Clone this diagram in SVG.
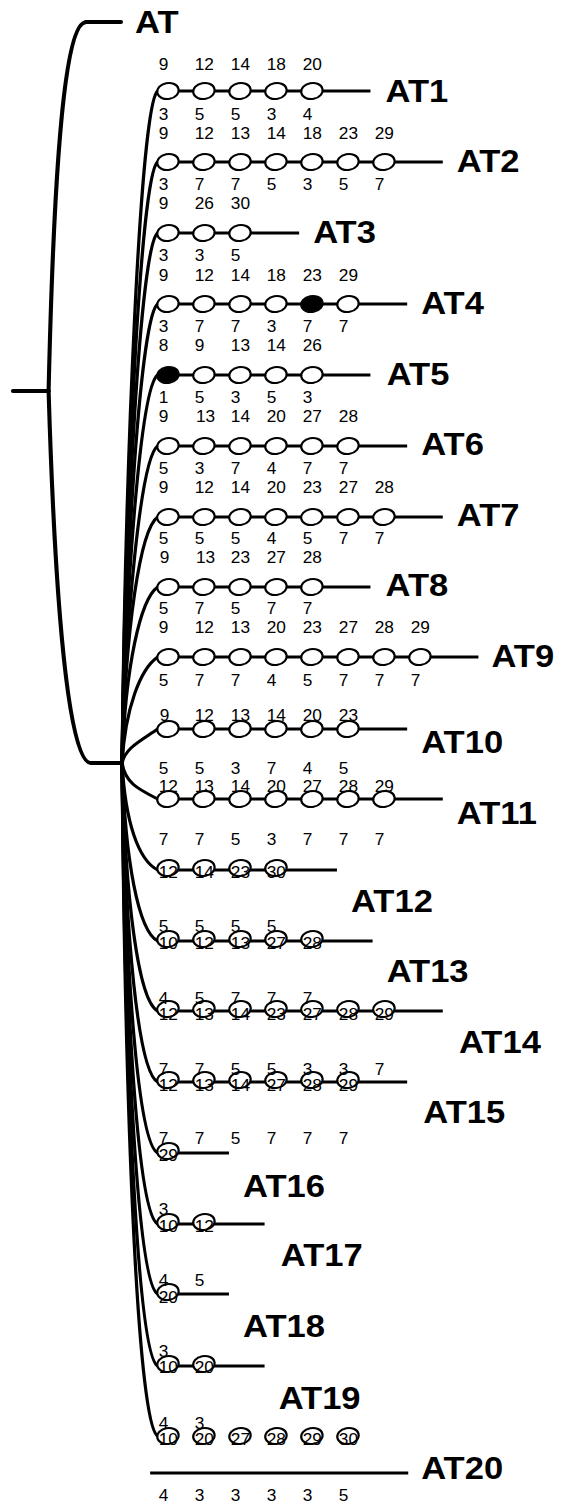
<svg xmlns="http://www.w3.org/2000/svg" xmlns:xlink="http://www.w3.org/1999/xlink" width="564" height="1506" viewBox="0 0 564 1506">
<style>
.br{fill:none;stroke:#000;stroke-width:3.8;stroke-linecap:round}
.fan{fill:none;stroke:#000;stroke-width:3}
.ln{stroke:#000;stroke-width:3.2}
.nd{fill:#fff;stroke:#000;stroke-width:2}
.fl{fill:#000;stroke:#000;stroke-width:2}
.lb{font-family:"Liberation Sans",Arial,sans-serif;font-size:16px;fill:#000}
.t{font-family:"Liberation Sans",Arial,sans-serif;font-size:32px;font-weight:bold;fill:#000}
</style>
<defs>
<ellipse id="o" cx="0" cy="0" rx="10" ry="8" transform="rotate(-12)"/>
</defs>
<rect width="564" height="1506" fill="#fff"/>
<g transform="scale(1.08,1)">
<g id="connectors">
<path class="br" d="M12,391 L45,391"/>
<path class="br" d="M45,391 C50,160 60,22 80,22"/>
<path class="br" d="M45,391 C52,640 66,763 84,763 L113,763"/>
<path class="fan" d="M113,763 C116,460 130,103 146,91"/>
<path class="fan" d="M113,763 C116,497 130,174 146,162"/>
<path class="fan" d="M113,763 C116,529 130,245 146,233"/>
<path class="fan" d="M113,763 C116,561 130,316 146,304"/>
<path class="fan" d="M113,763 C116,592 130,387 146,375"/>
<path class="fan" d="M113,763 C116,624 130,458 146,446"/>
<path class="fan" d="M113,763 C116,627 130,529 146,517"/>
<path class="fan" d="M113,763 C116,666 130,599 146,587"/>
<path class="fan" d="M113,763 C116,708 130,669 146,657"/>
<path class="fan" d="M113,763 C116,748 130,741 146,729"/>
<path class="fan" d="M113,763 C116,783 128,789 146,799"/>
<path class="fan" d="M113,763 C116,822 128,860 146,870"/>
<path class="fan" d="M113,763 C116,861 128,931 146,941"/>
<path class="fan" d="M113,763 C116,899 128,1001 146,1011"/>
<path class="fan" d="M113,763 C116,938 128,1072 146,1082"/>
<path class="fan" d="M113,763 C116,977 128,1143 146,1153"/>
<path class="fan" d="M113,763 C116,1016 128,1214 146,1224"/>
<path class="fan" d="M113,763 C116,1054 128,1284 146,1294"/>
<path class="fan" d="M113,763 C116,1094 128,1356 146,1366"/>
<path class="fan" d="M113,763 C116,1133 128,1426 146,1436"/>
</g>
<g id="AT">
<path class="br" d="M80,22 L112,22"/>
<text class="t" x="125" y="33">AT</text>
</g>
<g id="AT1">
<line class="ln" x1="146" y1="91" x2="343" y2="91"/>
<use xlink:href="#o" class="nd" x="155.5" y="91"/><use xlink:href="#o" class="nd" x="188.8" y="91"/><use xlink:href="#o" class="nd" x="222.2" y="91"/><use xlink:href="#o" class="nd" x="255.5" y="91"/><use xlink:href="#o" class="nd" x="288.8" y="91"/>
<text class="lb" y="70"><tspan x="147">9</tspan><tspan x="180.3">12</tspan><tspan x="213.7">14</tspan><tspan x="247">18</tspan><tspan x="280.3">20</tspan></text>
<text class="lb" y="120"><tspan x="147">3</tspan><tspan x="180.3">5</tspan><tspan x="213.7">5</tspan><tspan x="247">3</tspan><tspan x="280.3">4</tspan></text>
<text class="t" x="357" y="102">AT1</text>
</g>
<g id="AT2">
<line class="ln" x1="146" y1="162" x2="410" y2="162"/>
<use xlink:href="#o" class="nd" x="155.5" y="162"/><use xlink:href="#o" class="nd" x="188.8" y="162"/><use xlink:href="#o" class="nd" x="222.2" y="162"/><use xlink:href="#o" class="nd" x="255.5" y="162"/><use xlink:href="#o" class="nd" x="288.8" y="162"/><use xlink:href="#o" class="nd" x="322.2" y="162"/><use xlink:href="#o" class="nd" x="355.5" y="162"/>
<text class="lb" y="139"><tspan x="147">9</tspan><tspan x="180.3">12</tspan><tspan x="213.7">13</tspan><tspan x="247">14</tspan><tspan x="280.3">18</tspan><tspan x="313.7">23</tspan><tspan x="347">29</tspan></text>
<text class="lb" y="190"><tspan x="147">3</tspan><tspan x="180.3">7</tspan><tspan x="213.7">7</tspan><tspan x="247">5</tspan><tspan x="280.3">3</tspan><tspan x="313.7">5</tspan><tspan x="347">7</tspan></text>
<text class="t" x="423" y="172">AT2</text>
</g>
<g id="AT3">
<line class="ln" x1="146" y1="233" x2="277" y2="233"/>
<use xlink:href="#o" class="nd" x="155.5" y="233"/><use xlink:href="#o" class="nd" x="188.8" y="233"/><use xlink:href="#o" class="nd" x="222.2" y="233"/>
<text class="lb" y="209"><tspan x="147">9</tspan><tspan x="180.3">26</tspan><tspan x="213.7">30</tspan></text>
<text class="lb" y="261"><tspan x="147">3</tspan><tspan x="180.3">3</tspan><tspan x="213.7">5</tspan></text>
<text class="t" x="290" y="243">AT3</text>
</g>
<g id="AT4">
<line class="ln" x1="146" y1="304" x2="377" y2="304"/>
<use xlink:href="#o" class="nd" x="155.5" y="304"/><use xlink:href="#o" class="nd" x="188.8" y="304"/><use xlink:href="#o" class="nd" x="222.2" y="304"/><use xlink:href="#o" class="nd" x="255.5" y="304"/><use xlink:href="#o" class="fl" x="288.8" y="304"/><use xlink:href="#o" class="nd" x="322.2" y="304"/>
<text class="lb" y="281"><tspan x="147">9</tspan><tspan x="180.3">12</tspan><tspan x="213.7">14</tspan><tspan x="247">18</tspan><tspan x="280.3">23</tspan><tspan x="313.7">29</tspan></text>
<text class="lb" y="332"><tspan x="147">3</tspan><tspan x="180.3">7</tspan><tspan x="213.7">7</tspan><tspan x="247">3</tspan><tspan x="280.3">7</tspan><tspan x="313.7">7</tspan></text>
<text class="t" x="390" y="314">AT4</text>
</g>
<g id="AT5">
<line class="ln" x1="146" y1="375" x2="343" y2="375"/>
<use xlink:href="#o" class="fl" x="155.5" y="375"/><use xlink:href="#o" class="nd" x="188.8" y="375"/><use xlink:href="#o" class="nd" x="222.2" y="375"/><use xlink:href="#o" class="nd" x="255.5" y="375"/><use xlink:href="#o" class="nd" x="288.8" y="375"/>
<text class="lb" y="351"><tspan x="147">8</tspan><tspan x="180.3">9</tspan><tspan x="213.7">13</tspan><tspan x="247">14</tspan><tspan x="280.3">26</tspan></text>
<text class="lb" y="403"><tspan x="147">1</tspan><tspan x="180.3">5</tspan><tspan x="213.7">3</tspan><tspan x="247">5</tspan><tspan x="280.3">3</tspan></text>
<text class="t" x="358" y="385">AT5</text>
</g>
<g id="AT6">
<line class="ln" x1="146" y1="446" x2="377" y2="446"/>
<use xlink:href="#o" class="nd" x="155.5" y="446"/><use xlink:href="#o" class="nd" x="188.8" y="446"/><use xlink:href="#o" class="nd" x="222.2" y="446"/><use xlink:href="#o" class="nd" x="255.5" y="446"/><use xlink:href="#o" class="nd" x="288.8" y="446"/><use xlink:href="#o" class="nd" x="322.2" y="446"/>
<text class="lb" y="422"><tspan x="147">9</tspan><tspan x="181.5">13</tspan><tspan x="213.7">14</tspan><tspan x="247">20</tspan><tspan x="280.3">27</tspan><tspan x="313.7">28</tspan></text>
<text class="lb" y="474"><tspan x="147">5</tspan><tspan x="180.3">3</tspan><tspan x="213.7">7</tspan><tspan x="247">4</tspan><tspan x="280.3">7</tspan><tspan x="313.7">7</tspan></text>
<text class="t" x="390" y="455">AT6</text>
</g>
<g id="AT7">
<line class="ln" x1="146" y1="517" x2="410" y2="517"/>
<use xlink:href="#o" class="nd" x="155.5" y="517"/><use xlink:href="#o" class="nd" x="188.8" y="517"/><use xlink:href="#o" class="nd" x="222.2" y="517"/><use xlink:href="#o" class="nd" x="255.5" y="517"/><use xlink:href="#o" class="nd" x="288.8" y="517"/><use xlink:href="#o" class="nd" x="322.2" y="517"/><use xlink:href="#o" class="nd" x="355.5" y="517"/>
<text class="lb" y="493"><tspan x="147">9</tspan><tspan x="180.3">12</tspan><tspan x="213.7">14</tspan><tspan x="247">20</tspan><tspan x="280.3">23</tspan><tspan x="313.7">27</tspan><tspan x="347">28</tspan></text>
<text class="lb" y="544"><tspan x="147">5</tspan><tspan x="180.3">5</tspan><tspan x="213.7">5</tspan><tspan x="247">4</tspan><tspan x="280.3">5</tspan><tspan x="313.7">7</tspan><tspan x="347">7</tspan></text>
<text class="t" x="423" y="526">AT7</text>
</g>
<g id="AT8">
<line class="ln" x1="146" y1="587" x2="343" y2="587"/>
<use xlink:href="#o" class="nd" x="155.5" y="587"/><use xlink:href="#o" class="nd" x="188.8" y="587"/><use xlink:href="#o" class="nd" x="222.2" y="587"/><use xlink:href="#o" class="nd" x="255.5" y="587"/><use xlink:href="#o" class="nd" x="288.8" y="587"/>
<text class="lb" y="563"><tspan x="148">9</tspan><tspan x="181.5">13</tspan><tspan x="213.7">23</tspan><tspan x="247">27</tspan><tspan x="280.3">28</tspan></text>
<text class="lb" y="614"><tspan x="147">5</tspan><tspan x="180.3">7</tspan><tspan x="213.7">5</tspan><tspan x="247">7</tspan><tspan x="280.3">7</tspan></text>
<text class="t" x="357" y="596">AT8</text>
</g>
<g id="AT9">
<line class="ln" x1="146" y1="657" x2="443" y2="657"/>
<use xlink:href="#o" class="nd" x="155.5" y="657"/><use xlink:href="#o" class="nd" x="188.8" y="657"/><use xlink:href="#o" class="nd" x="222.2" y="657"/><use xlink:href="#o" class="nd" x="255.5" y="657"/><use xlink:href="#o" class="nd" x="288.8" y="657"/><use xlink:href="#o" class="nd" x="322.2" y="657"/><use xlink:href="#o" class="nd" x="355.5" y="657"/><use xlink:href="#o" class="nd" x="388.8" y="657"/>
<text class="lb" y="633"><tspan x="147">9</tspan><tspan x="180.3">12</tspan><tspan x="213.7">13</tspan><tspan x="247">20</tspan><tspan x="280.3">23</tspan><tspan x="313.7">27</tspan><tspan x="347">28</tspan><tspan x="380.3">29</tspan></text>
<text class="lb" y="686"><tspan x="147">5</tspan><tspan x="180.3">7</tspan><tspan x="213.7">7</tspan><tspan x="247">4</tspan><tspan x="280.3">5</tspan><tspan x="313.7">7</tspan><tspan x="347">7</tspan><tspan x="380.3">7</tspan></text>
<text class="t" x="455" y="667">AT9</text>
</g>
<g id="AT10">
<line class="ln" x1="146" y1="729" x2="377" y2="729"/>
<use xlink:href="#o" class="nd" x="155.5" y="729"/><use xlink:href="#o" class="nd" x="188.8" y="729"/><use xlink:href="#o" class="nd" x="222.2" y="729"/><use xlink:href="#o" class="nd" x="255.5" y="729"/><use xlink:href="#o" class="nd" x="288.8" y="729"/><use xlink:href="#o" class="nd" x="322.2" y="729"/>
<text class="lb" y="721"><tspan x="148">9</tspan><tspan x="180.3">12</tspan><tspan x="213.7">13</tspan><tspan x="247">14</tspan><tspan x="280.3">20</tspan><tspan x="313.7">23</tspan></text>
<text class="lb" y="774"><tspan x="147">5</tspan><tspan x="180.3">5</tspan><tspan x="213.7">3</tspan><tspan x="247">7</tspan><tspan x="280.3">4</tspan><tspan x="313.7">5</tspan></text>
<text class="t" x="390" y="753">AT10</text>
</g>
<g id="AT11">
<line class="ln" x1="146" y1="799" x2="410" y2="799"/>
<use xlink:href="#o" class="nd" x="155.5" y="799"/><use xlink:href="#o" class="nd" x="188.8" y="799"/><use xlink:href="#o" class="nd" x="222.2" y="799"/><use xlink:href="#o" class="nd" x="255.5" y="799"/><use xlink:href="#o" class="nd" x="288.8" y="799"/><use xlink:href="#o" class="nd" x="322.2" y="799"/><use xlink:href="#o" class="nd" x="355.5" y="799"/>
<text class="lb" y="792"><tspan x="147">12</tspan><tspan x="180.3">13</tspan><tspan x="213.7">14</tspan><tspan x="247">20</tspan><tspan x="280.3">27</tspan><tspan x="313.7">28</tspan><tspan x="347">29</tspan></text>
<text class="lb" y="845"><tspan x="147">7</tspan><tspan x="180.3">7</tspan><tspan x="213.7">5</tspan><tspan x="247">3</tspan><tspan x="280.3">7</tspan><tspan x="313.7">7</tspan><tspan x="347">7</tspan></text>
<text class="t" x="423" y="824">AT11</text>
</g>
<g id="AT12">
<line class="ln" x1="146" y1="870" x2="312" y2="870"/>
<use xlink:href="#o" class="nd" x="155.5" y="868"/><use xlink:href="#o" class="nd" x="188.8" y="868"/><use xlink:href="#o" class="nd" x="222.2" y="868"/><use xlink:href="#o" class="nd" x="255.5" y="868"/>
<text class="lb" y="878"><tspan x="147">12</tspan><tspan x="180.3">14</tspan><tspan x="213.7">23</tspan><tspan x="247">30</tspan></text>
<text class="t" x="325" y="912">AT12</text>
</g>
<g id="AT13">
<line class="ln" x1="146" y1="941" x2="345" y2="941"/>
<use xlink:href="#o" class="nd" x="155.5" y="939"/><use xlink:href="#o" class="nd" x="188.8" y="939"/><use xlink:href="#o" class="nd" x="222.2" y="939"/><use xlink:href="#o" class="nd" x="255.5" y="939"/><use xlink:href="#o" class="nd" x="288.8" y="939"/>
<text class="lb" y="932"><tspan x="147">5</tspan><tspan x="180.3">5</tspan><tspan x="213.7">5</tspan><tspan x="247">5</tspan></text>
<text class="lb" y="949"><tspan x="147">10</tspan><tspan x="180.3">12</tspan><tspan x="213.7">13</tspan><tspan x="247">27</tspan><tspan x="280.3">28</tspan></text>
<text class="t" x="358" y="982">AT13</text>
</g>
<g id="AT14">
<line class="ln" x1="146" y1="1011" x2="410" y2="1011"/>
<use xlink:href="#o" class="nd" x="155.5" y="1009"/><use xlink:href="#o" class="nd" x="188.8" y="1009"/><use xlink:href="#o" class="nd" x="222.2" y="1009"/><use xlink:href="#o" class="nd" x="255.5" y="1009"/><use xlink:href="#o" class="nd" x="288.8" y="1009"/><use xlink:href="#o" class="nd" x="322.2" y="1009"/><use xlink:href="#o" class="nd" x="355.5" y="1009"/>
<text class="lb" y="1004"><tspan x="147">4</tspan><tspan x="180.3">5</tspan><tspan x="213.7">7</tspan><tspan x="247">7</tspan><tspan x="280.3">7</tspan></text>
<text class="lb" y="1020"><tspan x="147">12</tspan><tspan x="180.3">13</tspan><tspan x="213.7">14</tspan><tspan x="247">23</tspan><tspan x="280.3">27</tspan><tspan x="313.7">28</tspan><tspan x="347">29</tspan></text>
<text class="t" x="425" y="1053">AT14</text>
</g>
<g id="AT15">
<line class="ln" x1="146" y1="1082" x2="377" y2="1082"/>
<use xlink:href="#o" class="nd" x="155.5" y="1080"/><use xlink:href="#o" class="nd" x="188.8" y="1080"/><use xlink:href="#o" class="nd" x="222.2" y="1080"/><use xlink:href="#o" class="nd" x="255.5" y="1080"/><use xlink:href="#o" class="nd" x="288.8" y="1080"/><use xlink:href="#o" class="nd" x="322.2" y="1080"/>
<text class="lb" y="1075"><tspan x="147">7</tspan><tspan x="180.3">7</tspan><tspan x="213.7">5</tspan><tspan x="247">5</tspan><tspan x="280.3">3</tspan><tspan x="313.7">3</tspan><tspan x="347">7</tspan></text>
<text class="lb" y="1091"><tspan x="147">12</tspan><tspan x="180.3">13</tspan><tspan x="213.7">14</tspan><tspan x="247">27</tspan><tspan x="280.3">28</tspan><tspan x="313.7">29</tspan></text>
<text class="t" x="392" y="1123">AT15</text>
</g>
<g id="AT16">
<line class="ln" x1="146" y1="1153" x2="212" y2="1153"/>
<use xlink:href="#o" class="nd" x="155.5" y="1151"/>
<text class="lb" y="1144"><tspan x="147">7</tspan><tspan x="180.3">7</tspan><tspan x="213.7">5</tspan><tspan x="247">7</tspan><tspan x="280.3">7</tspan><tspan x="313.7">7</tspan></text>
<text class="lb" y="1161"><tspan x="147">29</tspan></text>
<text class="t" x="225" y="1197">AT16</text>
</g>
<g id="AT17">
<line class="ln" x1="146" y1="1224" x2="245" y2="1224"/>
<use xlink:href="#o" class="nd" x="155.5" y="1222"/><use xlink:href="#o" class="nd" x="188.8" y="1222"/>
<text class="lb" y="1215"><tspan x="147">3</tspan></text>
<text class="lb" y="1232"><tspan x="147">10</tspan><tspan x="180.3">12</tspan></text>
<text class="t" x="260" y="1266">AT17</text>
</g>
<g id="AT18">
<line class="ln" x1="146" y1="1294" x2="212" y2="1294"/>
<use xlink:href="#o" class="nd" x="155.5" y="1292"/>
<text class="lb" y="1286"><tspan x="147">4</tspan><tspan x="180.3">5</tspan></text>
<text class="lb" y="1303"><tspan x="147">20</tspan></text>
<text class="t" x="225" y="1337">AT18</text>
</g>
<g id="AT19">
<line class="ln" x1="146" y1="1366" x2="245" y2="1366"/>
<use xlink:href="#o" class="nd" x="155.5" y="1364"/><use xlink:href="#o" class="nd" x="188.8" y="1364"/>
<text class="lb" y="1357"><tspan x="147">3</tspan></text>
<text class="lb" y="1373"><tspan x="147">10</tspan><tspan x="180.3">20</tspan></text>
<text class="t" x="258" y="1409">AT19</text>
</g>
<g id="row-1436">
<use xlink:href="#o" class="nd" x="155.5" y="1436"/><use xlink:href="#o" class="nd" x="188.8" y="1436"/><use xlink:href="#o" class="nd" x="222.2" y="1436"/><use xlink:href="#o" class="nd" x="255.5" y="1436"/><use xlink:href="#o" class="nd" x="288.8" y="1436"/><use xlink:href="#o" class="nd" x="322.2" y="1436"/>
<text class="lb" y="1429"><tspan x="147">4</tspan><tspan x="180.3">3</tspan></text>
<text class="lb" y="1445"><tspan x="147">10</tspan><tspan x="180.3">20</tspan><tspan x="213.7">27</tspan><tspan x="247">28</tspan><tspan x="280.3">29</tspan><tspan x="313.7">30</tspan></text>
</g>
<g id="AT20">
<line class="ln" x1="139" y1="1473" x2="378" y2="1473"/>
<text class="lb" y="1501"><tspan x="147">4</tspan><tspan x="180.3">3</tspan><tspan x="213.7">3</tspan><tspan x="247">3</tspan><tspan x="280.3">3</tspan><tspan x="313.7">5</tspan></text>
<text class="t" x="390" y="1479">AT20</text>
</g>
</g>
</svg>
